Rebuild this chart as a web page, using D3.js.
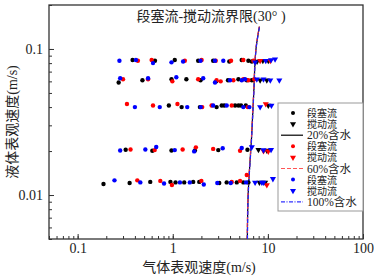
<!DOCTYPE html>
<html>
<head>
<meta charset="utf-8">
<script src="https://cdn.jsdelivr.net/npm/d3@7"></script>
<style>
body { margin: 0; background: #fff; }
svg text { font-family: "Liberation Serif", "Noto Sans CJK SC", serif; fill: #222; }
</style>
</head>
<body>
<div class="chart"></div>
<script>
const WIDTH = 374;
const HEIGHT = 276;
const LEFT = 49, RIGHT = 363, TOP = 5, BOTTOM = 239;

// gas superficial velocity (m/s), liquid superficial velocity (m/s)
const slug20 = [[0.378,0.084],[0.65,0.083],[1.05,0.084],[1.85,0.083],[2.66,0.083],[3.93,0.082],[5.31,0.084],[6.24,0.083],[6.78,0.082],
  [0.27,0.059],[0.48,0.061],[0.97,0.062],[1.39,0.062],[1.96,0.061],[2.87,0.060],[3.81,0.061],[4.9,0.062],[6.0,0.061],[6.78,0.061],
  [0.91,0.041],[1.24,0.040],[1.93,0.040],[2.89,0.040],[3.27,0.041],[3.48,0.041],[4.52,0.041],[4.9,0.041],[5.22,0.041],[5.86,0.041],
  [0.32,0.0204],[0.61,0.0201],[0.97,0.0202],[1.71,0.0202],[3.01,0.0203],[6.1,0.0204],
  [0.187,0.0119],[0.352,0.0121],[0.58,0.0123],[0.945,0.0123],[1.07,0.0122],[1.32,0.0122],[1.64,0.0123],[1.9,0.0123],[3.08,0.0121],[3.69,0.0122],[4.71,0.0122],[5.52,0.0122],[6.24,0.0122]];
const churn20 = [[7.7,0.082],[8.85,0.083],[10.1,0.083],[8.29,0.061],[9.75,0.061],[10.1,0.041],[7.96,0.0204],[9.75,0.0202],[8.15,0.0122],[9.36,0.0122]];

const slug60 = [[0.43,0.083],[0.60,0.084],[1.34,0.083],[2.01,0.084],[2.83,0.083],[4.1,0.083],[5.52,0.084],[7.05,0.083],
  [0.30,0.062],[0.55,0.062],[0.99,0.060],[1.85,0.062],[2.89,0.061],[3.19,0.060],[4.34,0.061],[5.52,0.062],[6.24,0.061],[7.2,0.062],
  [0.33,0.042],[0.62,0.041],[1.12,0.042],[2.04,0.040],[2.56,0.041],[4.17,0.041],[6.15,0.040],
  [0.36,0.0205],[0.646,0.0203],[1.27,0.0205],[1.75,0.0212],[2.66,0.0207],[5.1,0.0201],
  [0.424,0.0126],[0.74,0.0125],[0.98,0.0117],[2.0,0.0125],[4.17,0.0123],[5.1,0.0125],[6.0,0.0137]];
const churn60 = [[8.29,0.083],[10.6,0.083],[9.5,0.042],[9.0,0.0200],[10.1,0.0199],[9.75,0.0117]];

const slug100 = [[0.275,0.083],[0.41,0.084],[0.62,0.080],[0.97,0.081],[1.285,0.082],[1.96,0.083],[2.78,0.083],[3.40,0.083],
  [0.28,0.063],[0.55,0.063],[1.09,0.064],[2.09,0.063],[2.78,0.059],[4.0,0.061],[5.31,0.061],[5.75,0.062],
  [0.40,0.040],[0.73,0.040],[1.42,0.040],[1.97,0.040],[2.66,0.041],[3.69,0.041],[5.52,0.040],[6.39,0.040],
  [0.28,0.0202],[0.515,0.0205],[0.67,0.0213],[1.05,0.0203],[1.68,0.0199],[3.35,0.0209],[5.31,0.0210],
  [0.244,0.0126],[0.456,0.0122],[0.81,0.0120],[1.19,0.0122],[1.51,0.0122],[2.12,0.0118],[2.94,0.0121],[4.07,0.0121],[5.9,0.0122]];
const churn100 = [[7.34,0.081],[9.5,0.083],[10.8,0.084],[11.9,0.085],[7.65,0.062],[8.99,0.062],[10.6,0.061],[13.2,0.061],
  [8.29,0.040],[10.9,0.041],[6.78,0.0213],[8.99,0.0203],[10.8,0.0204],[7.34,0.0122],[8.64,0.0122],[8.99,0.0122],[11.3,0.0129]];

// slug/churn boundary lines
const boundaryVl = [0.005, 0.01, 0.025, 0.05, 0.1, 0.142];
const boundary20 = [6.08, 6.2, 6.74, 7.1, 7.5, 8.15];
const boundary60 = [6.06, 6.18, 6.72, 7.08, 7.48, 8.12];
const boundary100 = [6.1, 6.22, 6.76, 7.12, 7.52, 8.17];

const xTickLabels = [0.1, 1, 10, 100];
const yTickLabels = [0.01, 0.1];
const legendLabels = ['段塞流', '搅动流', '20%含水', '段塞流', '搅动流', '60%含水', '段塞流', '搅动流', '100%含水'];

const xScale = d3.scaleLog().domain([0.05, 100]).range([LEFT, RIGHT]);
const yScale = d3.scaleLog().domain([0.005, 0.2]).range([BOTTOM, TOP]);

const svg = d3.select('.chart').append('svg')
  .attr('width', WIDTH)
  .attr('height', HEIGHT);

function styleAxis(g) {
  g.select('.domain').remove();
  g.attr('font-family', null);
  g.selectAll('line').attr('stroke', '#333').attr('stroke-width', 1);
  g.selectAll('text').attr('font-size', 14).attr('fill', '#222');
}

// minor ticks
svg.append('g').attr('transform', 'translate(0,' + BOTTOM + ')')
  .call(d3.axisBottom(xScale).ticks(10).tickSize(-3).tickFormat(''))
  .call(styleAxis);
svg.append('g').attr('transform', 'translate(' + LEFT + ',0)')
  .call(d3.axisLeft(yScale).ticks(10).tickSize(-3).tickFormat(''))
  .call(styleAxis);

// major ticks
svg.append('g').attr('transform', 'translate(0,' + BOTTOM + ')')
  .call(d3.axisBottom(xScale).tickValues(xTickLabels).tickSize(-5).tickPadding(4).tickFormat(d3.format('')))
  .call(styleAxis);
svg.append('g').attr('transform', 'translate(' + LEFT + ',0)')
  .call(d3.axisLeft(yScale).tickValues(yTickLabels).tickSize(-5).tickPadding(6).tickFormat(d3.format('')))
  .call(styleAxis);

svg.append('rect')
  .attr('x', LEFT).attr('y', TOP)
  .attr('width', RIGHT - LEFT).attr('height', BOTTOM - TOP)
  .attr('fill', 'none').attr('stroke', '#333').attr('stroke-width', 1.3);

// boundary lines
var line = d3.line()
  .x(function (d) { return xScale(d[0]); })
  .y(function (d) { return yScale(d[1]); })
  .curve(d3.curveMonotoneY);

function drawBoundary(xs, color, dash) {
  svg.append('path')
    .attr('d', line(xs.map(function (x, i) { return [x, boundaryVl[i]]; })))
    .attr('fill', 'none')
    .attr('stroke', color)
    .attr('stroke-width', 1.2)
    .attr('stroke-dasharray', dash);
}
drawBoundary(boundary20, '#000', null);
drawBoundary(boundary60, '#ff3333', '4,2');
drawBoundary(boundary100, '#2222ff', '4,1.5,1,1.5');

// points
var triangle = d3.symbol().type(d3.symbolTriangle).size(16);

function drawSlug(data, color) {
  svg.append('g').selectAll('circle').data(data).enter().append('circle')
    .attr('cx', function (d) { return xScale(d[0]); })
    .attr('cy', function (d) { return yScale(d[1]); })
    .attr('r', 2.2)
    .attr('fill', color);
}
function drawChurn(data, color) {
  svg.append('g').selectAll('path').data(data).enter().append('path')
    .attr('d', triangle)
    .attr('transform', function (d) {
      return 'translate(' + xScale(d[0]) + ',' + yScale(d[1]) + ') rotate(180)';
    })
    .attr('fill', color);
}
drawSlug(slug20, '#000');
drawChurn(churn20, '#000');
drawSlug(slug60, '#ff0000');
drawChurn(churn60, '#ff0000');
drawSlug(slug100, '#0000ff');
drawChurn(churn100, '#0000ff');

// title and axis labels
svg.append('text')
  .attr('x', 211).attr('y', 21)
  .attr('text-anchor', 'middle')
  .attr('font-size', 14)
  .text('段塞流-搅动流界限(30° )');

svg.append('text')
  .attr('x', 199).attr('y', 272)
  .attr('text-anchor', 'middle')
  .attr('font-size', 14)
  .text('气体表观速度(m/s)');

svg.append('text')
  .attr('transform', 'translate(17,122) rotate(-90)')
  .attr('text-anchor', 'middle')
  .attr('font-size', 14)
  .text('液体表观速度(m/s)');

// legend
var legend = svg.append('g');
legend.append('rect')
  .attr('x', 278).attr('y', 103)
  .attr('width', 85).attr('height', 108)
  .attr('fill', '#fff').attr('stroke', '#999').attr('stroke-width', 1);

var legendColors = ['#000', '#000', '#000', '#ff0000', '#ff0000', '#ff5555', '#0000ff', '#0000ff', '#3333ff'];
var legendDash = [null, null, null, null, null, '4,2', null, null, '4,1.5,1,1.5'];

legendLabels.forEach(function (label, i) {
  var y = 113 + i * 11.1;
  var kind = i % 3;
  if (kind === 0) {
    legend.append('circle').attr('cx', 293).attr('cy', y).attr('r', 2).attr('fill', legendColors[i]);
  } else if (kind === 1) {
    legend.append('path').attr('d', triangle)
      .attr('transform', 'translate(293,' + y + ') rotate(180)')
      .attr('fill', legendColors[i]);
  } else {
    legend.append('line')
      .attr('x1', 281).attr('x2', 303).attr('y1', y).attr('y2', y)
      .attr('stroke', legendColors[i]).attr('stroke-width', 1.2)
      .attr('stroke-dasharray', legendDash[i]);
  }
  legend.append('text')
    .attr('x', 307).attr('y', y + 4)
    .attr('font-size', kind === 2 ? 11.5 : 10)
    .text(label);
});
</script>
</body>
</html>
